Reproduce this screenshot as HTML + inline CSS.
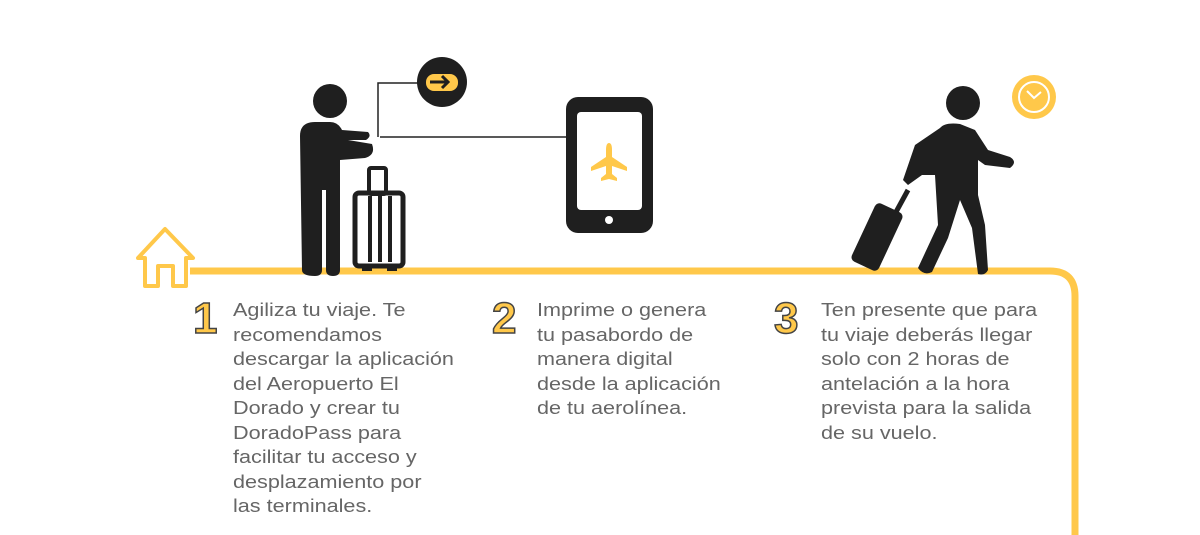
<!DOCTYPE html>
<html><head><meta charset="utf-8"><style>
body{margin:0;width:1200px;height:535px;background:#fff;overflow:hidden;position:relative;font-family:"Liberation Sans",sans-serif}
.t{position:absolute;color:#666;font-size:18px;line-height:24.5px;transform:scaleX(1.2);transform-origin:0 0;white-space:nowrap}
.n{position:absolute;font-size:44px;font-weight:bold;color:#ffc84a;-webkit-text-stroke:1.5px #444;font-family:"Liberation Sans",sans-serif}
</style></head><body>
<svg width="1200" height="535" style="position:absolute;left:0;top:0">
<path d="M190 271 H1050 Q1075 271 1075 296 V535" fill="none" stroke="#ffc84a" stroke-width="7"/>
<path d="M138 258 L165 229 L193 258 H186 V286 H173 V266 H158 V286 H145 V258 Z" fill="none" stroke="#ffc84a" stroke-width="4" stroke-linejoin="round"/>
<circle cx="330" cy="101" r="17" fill="#1f1f1f"/>
<path d="M300 136 Q300 122 315 122 H330 Q338 122 342 130 L368 132 Q372 136 366 140 L348 140 L372 144 Q376 155 365 158 L340 160 V270 Q340 276 333 276 Q326 276 326 270 V190 H322 V270 Q322 276 315 276 Q302 276 302 270 Z" fill="#1f1f1f"/>
<line x1="380" y1="137" x2="567" y2="137" stroke="#222" stroke-width="1.5"/>
<polyline points="378,137 378,83 425,83" fill="none" stroke="#222" stroke-width="1.5"/>
<circle cx="442" cy="82" r="25" fill="#1f1f1f"/>
<rect x="426" y="74" width="32" height="17" rx="8" fill="#ffc84a"/>
<path d="M430 82 H448 M442 76 L448 82 L442 88" stroke="#1f1f1f" stroke-width="3" fill="none"/>
<rect x="355" y="193" width="48" height="73" rx="4" fill="none" stroke="#1f1f1f" stroke-width="5"/>
<rect x="369" y="168" width="17" height="26" rx="2" fill="none" stroke="#1f1f1f" stroke-width="4"/>
<line x1="370" y1="196" x2="370" y2="262" stroke="#1f1f1f" stroke-width="4"/>
<line x1="380" y1="196" x2="380" y2="262" stroke="#1f1f1f" stroke-width="4"/>
<line x1="390" y1="196" x2="390" y2="262" stroke="#1f1f1f" stroke-width="4"/>
<rect x="362" y="265" width="10" height="6" fill="#1f1f1f"/><rect x="387" y="265" width="10" height="6" fill="#1f1f1f"/>
<rect x="566" y="97" width="87" height="136" rx="12" fill="#1f1f1f"/>
<rect x="577" y="112" width="65" height="98" rx="4" fill="#fff"/>
<circle cx="609" cy="220" r="4" fill="#fff"/>
<path d="M609 143 Q612 143 612 150 V157 L627 167 V171 L612 166 V174 L617 178 V181 L609 179 L601 181 V178 L606 174 V166 L591 171 V167 L606 157 V150 Q606 143 609 143 Z" fill="#ffc84a"/>
<circle cx="963" cy="103" r="17" fill="#1f1f1f"/>
<path d="M940 128 Q945 122 960 124 L975 130 L988 150 L1010 157 Q1018 162 1010 168 L985 165 L978 160 V195 L985 225 L988 270 Q985 276 978 274 L972 228 L960 200 L948 238 L932 272 Q924 276 918 268 L938 225 L935 175 L922 175 L908 185 L903 180 L915 145 Z" fill="#1f1f1f"/>
<line x1="908" y1="190" x2="896" y2="212" stroke="#1f1f1f" stroke-width="5"/>
<rect x="862" y="205" width="30" height="64" rx="5" fill="#1f1f1f" transform="rotate(25 877 237)"/>
<circle cx="1034" cy="97" r="22" fill="#ffc84a"/>
<circle cx="1034" cy="97" r="15" fill="none" stroke="#fff" stroke-width="2"/>
<path d="M1027 91 L1034 98 L1041 92" fill="none" stroke="#fff" stroke-width="2"/>
</svg>
<div class="n" style="left:193px;top:294px">1</div>
<div class="t" style="left:233px;top:298px">Agiliza tu viaje. Te<br>recomendamos<br>descargar la aplicación<br>del Aeropuerto El<br>Dorado y crear tu<br>DoradoPass para<br>facilitar tu acceso y<br>desplazamiento por<br>las terminales.</div>
<div class="n" style="left:492px;top:294px">2</div>
<div class="t" style="left:537px;top:298px">Imprime o genera<br>tu pasabordo de<br>manera digital<br>desde la aplicación<br>de tu aerolínea.</div>
<div class="n" style="left:774px;top:294px">3</div>
<div class="t" style="left:821px;top:298px">Ten presente que para<br>tu viaje deberás llegar<br>solo con 2 horas de<br>antelación a la hora<br>prevista para la salida<br>de su vuelo.</div>
</body></html>
